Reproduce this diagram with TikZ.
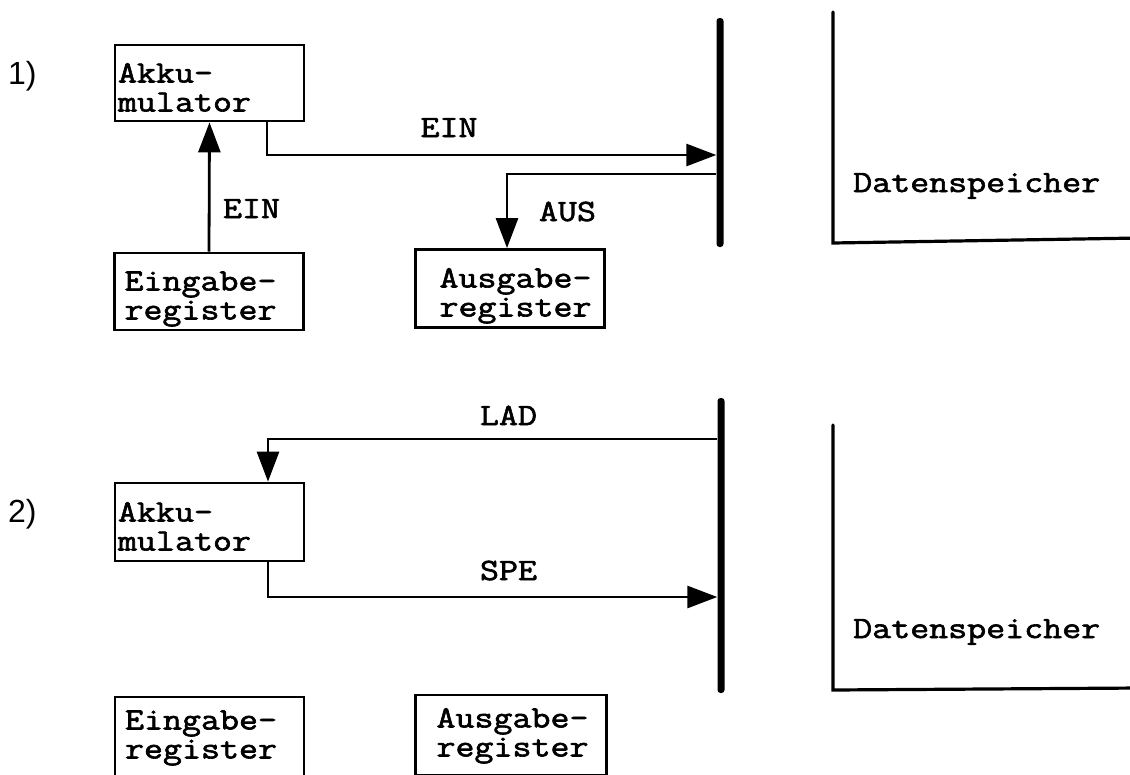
\documentclass[tikz,border=0pt]{standalone}
\usepackage{fontspec}
\newfontfamily\tw[FakeBold=2,FakeStretch=1.19]{Latin Modern Mono}
\newfontfamily\lbl{Liberation Sans}
\usetikzlibrary{arrows.meta}
\newcommand\tstrut[1]{\rule{0pt}{#1}}
\newcommand\bstrut{\rule[-6pt]{0pt}{6pt}}
\begin{document}
\begin{tikzpicture}[x=1pt,y=-1pt,
  regbox/.style={draw, line width=2.8pt, inner xsep=0pt, inner ysep=0pt,
    minimum width=189pt, minimum height=77pt, text width=189pt, align=left,
    font=\tw\fontsize{31}{29}\selectfont},
  lab/.style={font=\tw\fontsize{31}{29}\selectfont, inner sep=0pt, anchor=base},
  num/.style={font=\lbl\fontsize{32}{36}\selectfont, inner sep=0pt, anchor=base west},
  busbar/.style={fill=black, draw=none, inner sep=0pt, minimum width=7pt, rounded corners=3pt},
  arr/.style={line width=2.8pt, -{Triangle[length=30pt,width=22pt]}},
  dsline/.style={line width=3.2pt, line cap=round, line join=miter}
]
\useasboundingbox (0,0) rectangle (1130,774);
\fill[white] (0,0) rectangle (1130,774);
\clip (0,0) rectangle (1130,774);

% ---------- Panel 1 ----------
\node[num] (n1) at (8,84) {1)};
\node[regbox, minimum height=76pt] (akku1) at (209.5,83)
  {\tstrut{34pt}\hspace*{3pt}Akku-\\\hspace*{3pt}mulator\bstrut};
\node[regbox] (ein1) at (209,291.5)
  {\tstrut{34pt}\hspace*{10pt}Eingabe-\\\hspace*{10pt}register\bstrut};
\node[regbox, minimum height=78pt] (aus1) at (510,288.5)
  {\tstrut{34pt}\hspace*{24pt}Ausgabe-\\\hspace*{24pt}register\bstrut};
\node[busbar, minimum height=229pt] (bus1) at (720,132.5) {};

\coordinate (y155) at (0,155);
\coordinate (y174) at (0,174);

\draw[arr] (ein1.north) -- (akku1.south);
\draw[arr] ([xshift=57.5pt]akku1.south) |- (bus1.west |- y155);
\draw[arr] (bus1.west |- y174) -| ([xshift=-3pt]aus1.north);

\node[lab] (lein1) at (449,137) {EIN};
\node[lab] (lein2) at (251.5,218) {EIN};
\node[lab] (laus) at (567.5,221) {AUS};

\draw[dsline] (833,12) -- (833,243) -- (1140,238);
\node[lab, anchor=base west] (ds1) at (853,192) {Datenspeicher};

% ---------- Panel 2 ----------
\node[num] (n2) at (8,522) {2)};
\node[regbox, minimum height=78pt] (akku2) at (209.5,522)
  {\tstrut{34pt}\hspace*{3pt}Akku-\\\hspace*{3pt}mulator\bstrut};
\node[regbox, minimum height=80pt] (ein2) at (209.5,737)
  {\tstrut{21pt}\hspace*{10pt}Eingabe-\\\hspace*{10pt}register\bstrut};
\node[regbox, minimum width=191pt, text width=191pt, minimum height=80pt] (aus2) at (511,735)
  {\tstrut{21pt}\hspace*{21pt}Ausgabe-\\\hspace*{21pt}register\bstrut};
\node[busbar, minimum height=295pt] (bus2) at (721,545.5) {};

\coordinate (y439) at (0,439);
\coordinate (y597) at (0,597);

\draw[arr] (bus2.west |- y439) -| ([xshift=58.5pt]akku2.north);
\draw[arr] ([xshift=58.5pt]akku2.south) |- (bus2.west |- y597);

\node[lab] (llad) at (508.5,425) {LAD};
\node[lab] (lspe) at (508.5,580) {SPE};

\draw[dsline] (833,425) -- (833,690) -- (1140,688);
\node[lab, anchor=base west] (ds2) at (853,638) {Datenspeicher};
\end{tikzpicture}
\end{document}
